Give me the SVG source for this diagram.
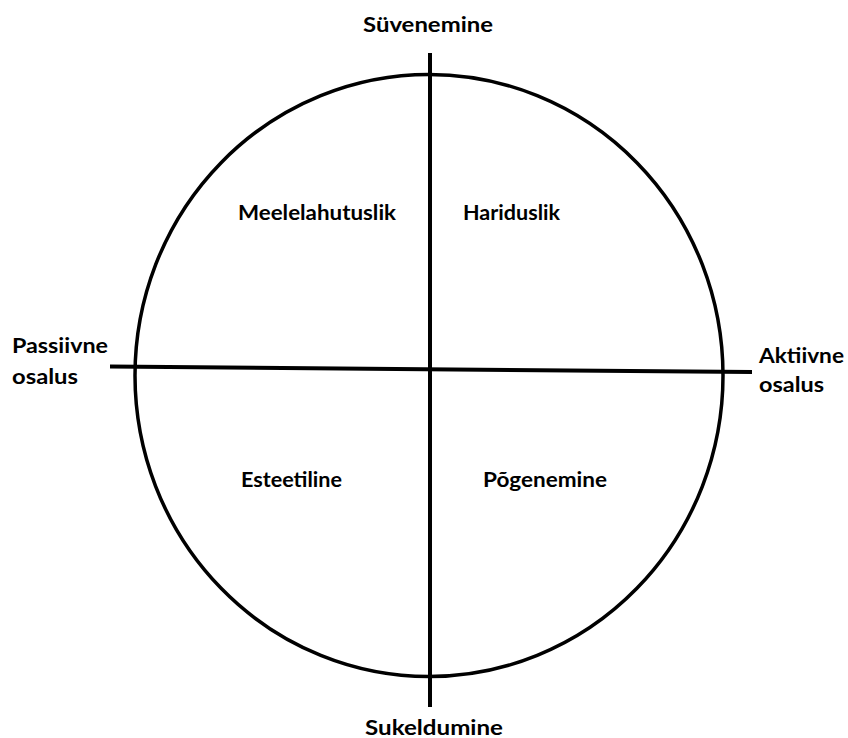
<svg xmlns="http://www.w3.org/2000/svg" width="848" height="738" viewBox="0 0 848 738">
<style>
  .lbl { font-family: "Lato", "Open Sans", "Liberation Sans", sans-serif; font-weight: bold; font-size: 21px; fill: #000; }
  .ln { stroke: #000; stroke-width: 4; fill: none; }
</style>
<rect width="848" height="738" fill="#fff"/>
<g id="circle">
  <ellipse cx="429" cy="375.5" rx="294" ry="301" fill="none" stroke="#000" stroke-width="3.5"/>
</g>
<g id="axes">
  <line class="ln" x1="430" y1="53" x2="430" y2="707"/>
  <line class="ln" x1="110" y1="366.5" x2="752" y2="372"/>
</g>
<g id="top"><text class="lbl" x="363" y="32" textLength="130" lengthAdjust="spacingAndGlyphs">Süvenemine</text></g>
<g id="bottom"><text class="lbl" x="365" y="735" textLength="138" lengthAdjust="spacingAndGlyphs">Sukeldumine</text></g>
<g id="left">
  <text class="lbl" x="12" y="353" textLength="96" lengthAdjust="spacingAndGlyphs">Passiivne</text>
  <text class="lbl" x="12" y="384" textLength="66" lengthAdjust="spacingAndGlyphs">osalus</text>
</g>
<g id="right">
  <text class="lbl" x="759" y="363" textLength="85" lengthAdjust="spacingAndGlyphs">Aktiivne</text>
  <text class="lbl" x="759" y="392" textLength="65" lengthAdjust="spacingAndGlyphs">osalus</text>
</g>
<g id="q1"><text class="lbl" x="238" y="220" textLength="158" lengthAdjust="spacingAndGlyphs">Meelelahutuslik</text></g>
<g id="q2"><text class="lbl" x="463" y="220" textLength="97" lengthAdjust="spacingAndGlyphs">Hariduslik</text></g>
<g id="q3"><text class="lbl" x="241" y="487" textLength="101" lengthAdjust="spacingAndGlyphs">Esteetiline</text></g>
<g id="q4"><text class="lbl" x="483" y="487" textLength="124" lengthAdjust="spacingAndGlyphs">Põgenemine</text></g>
</svg>
